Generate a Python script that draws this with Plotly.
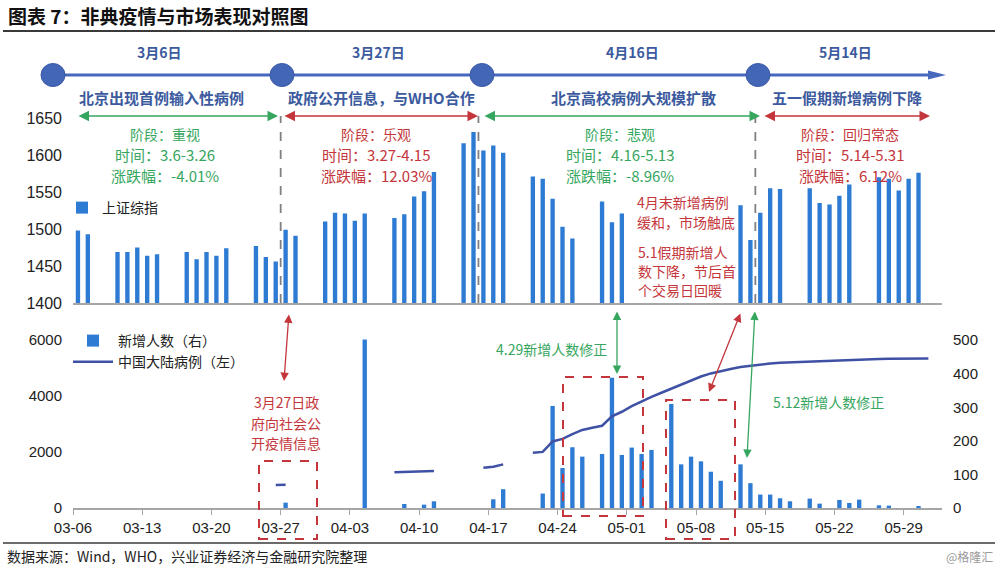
import plotly.graph_objects as go

W, H = 1000, 569
YEAR = "2003"

# ---------------- data ----------------
# Shanghai Composite (上证综指), trading days
sh_dates = ["03-06", "03-07",
            "03-10", "03-11", "03-12", "03-13", "03-14",
            "03-17", "03-18", "03-19", "03-20", "03-21",
            "03-24", "03-25", "03-26", "03-27", "03-28",
            "03-31", "04-01", "04-02", "04-03", "04-04",
            "04-07", "04-08", "04-09", "04-10", "04-11",
            "04-14", "04-15", "04-16", "04-17", "04-18",
            "04-21", "04-22", "04-23", "04-24", "04-25",
            "04-28", "04-29", "04-30",
            "05-12", "05-13", "05-14", "05-15", "05-16",
            "05-19", "05-20", "05-21", "05-22", "05-23",
            "05-26", "05-27", "05-28", "05-29", "05-30"]
sh_index = [1498, 1493,
            1469, 1469, 1475, 1464, 1466,
            1469, 1459, 1469, 1464, 1474,
            1477, 1462, 1456, 1499, 1491,
            1510, 1522, 1521, 1511, 1521,
            1515, 1520, 1544, 1551, 1577,
            1616, 1631, 1606, 1613, 1603,
            1571, 1568, 1541, 1503, 1487,
            1537, 1509, 1521,
            1532, 1485, 1522, 1555, 1554,
            1555, 1535, 1533, 1545, 1560,
            1570, 1568, 1552, 1568, 1576]

# New cases (新增人数, right axis)
new_dates = ["03-27", "04-04", "04-08", "04-10", "04-11", "04-17", "04-18",
             "04-22", "04-23", "04-24", "04-25", "04-26", "04-28", "04-29",
             "04-30", "05-01", "05-02", "05-03", "05-05", "05-06", "05-07",
             "05-08", "05-09", "05-10", "05-12", "05-13", "05-14", "05-15",
             "05-16", "05-17", "05-19", "05-20", "05-22", "05-23", "05-24",
             "05-26", "05-27", "05-30"]
new_cases = [16, 502, 12, 10, 20, 26, 56,
             43, 304, 119, 181, 153, 161, 388,
             158, 180, 161, 173, 310, 130, 153,
             139, 108, 81, 130, 74, 40, 40,
             29, 20, 28, 13, 24, 15, 25,
             8, 7, 3]

# Cumulative cases in mainland China (中国大陆病例, left axis); None = gap
cum_dates = ["03-26", "03-27", "03-28",
             "04-07", "04-08", "04-09", "04-10", "04-11", "04-12",
             "04-16", "04-17", "04-18", "04-19",
             "04-21", "04-22", "04-23", "04-24", "04-25", "04-26", "04-27",
             "04-28", "04-29", "04-30", "05-01", "05-02", "05-03", "05-04",
             "05-05", "05-06", "05-07", "05-08", "05-09", "05-10", "05-11",
             "05-12", "05-13", "05-14", "05-15", "05-16", "05-17", "05-18",
             "05-19", "05-20", "05-21", "05-22", "05-23", "05-24", "05-25",
             "05-26", "05-27", "05-28", "05-29", "05-30", "05-31"]
cum_cases = [825, 830, None,
             1275, 1287, 1298, 1310, 1321, None,
             1440, 1478, 1560, None,
             1976, 2005, 2380, 2470, 2640, 2790, 2870,
             2940, 3280, 3440, 3640, 3810, 3970, 4120,
             4270, 4420, 4570, 4700, 4810, 4900, 4970,
             5040, 5090, 5125, 5165, 5190, 5205, 5220,
             5240, 5260, 5275, 5290, 5300, 5310, 5318,
             5325, 5332, 5336, 5340, 5343, 5345]

top_ticks = [1400, 1450, 1500, 1550, 1600, 1650]
left_ticks = [0, 2000, 4000, 6000]
right_ticks = [0, 100, 200, 300, 400, 500]

milestone_dates = ["3月6日", "3月27日", "4月16日", "5月14日"]
milestone_events = ["北京出现首例输入性病例", "政府公开信息，与WHO合作",
                    "北京高校病例大规模扩散", "五一假期新增病例下降"]
phase_names = ["阶段：重视", "阶段：乐观", "阶段：悲观", "阶段：回归常态"]
phase_periods = ["时间：3.6-3.26", "时间：3.27-4.15", "时间：4.16-5.13", "时间：5.14-5.31"]
phase_changes = ["涨跌幅：-4.01%", "涨跌幅：12.03%", "涨跌幅：-8.96%", "涨跌幅：6.12%"]
phase_starts = ["03-27", "04-16", "05-14"]

# ---------------- styles ----------------
BAR = "#2E7BD4"
LINE = "#3F51A5"
TL = "#4769BB"
TLTXT = "#3C5A9E"
GREEN = "#36A65E"
RED = "#C4363B"
CJK = "Noto Sans CJK SC"
NUM = "Liberation Sans, Noto Sans CJK SC"


def d(md, t="12:00"):
    return f"{YEAR}-{md} {t}"


def P(x):
    return x / W


def Q(y):
    return 1 - y / H


XR = [d("03-06", "00:00"), d("06-01", "21:00")]
XD = [P(73), P(942)]

fig = go.Figure()

fig.add_trace(go.Bar(
    x=[d(s) for s in sh_dates], y=sh_index, name="上证综指",
    marker=dict(color=BAR, line=dict(width=0)), width=0.44 * 86400000,
    xaxis="x", yaxis="y", legend="legend"))

fig.add_trace(go.Bar(
    x=[d(s) for s in new_dates], y=new_cases, name="新增人数（右）",
    marker=dict(color=BAR, line=dict(width=0)), width=0.44 * 86400000,
    xaxis="x2", yaxis="y2", legend="legend2"))

fig.add_trace(go.Scatter(
    x=[d(s) for s in cum_dates], y=cum_cases, name="中国大陆病例（左）",
    mode="lines", line=dict(color=LINE, width=2.5), connectgaps=False,
    xaxis="x2", yaxis="y3", legend="legend2"))

shapes = []
ann = []


def txt(x, y, s, color, size=14, anchor="center", family=CJK):
    ann.append(dict(x=P(x), y=Q(y), xref="paper", yref="paper", text=s, showarrow=False,
                    xanchor=anchor, yanchor="middle", font=dict(family=family, size=size, color=color)))


def arrow(x0, y0, x1, y1, color, width=1.5, size=1.2):
    ann.append(dict(x=P(x1), y=Q(y1), xref="paper", yref="paper", ax=x0 - x1, ay=y0 - y1,
                    axref="pixel", ayref="pixel", text="", showarrow=True,
                    arrowhead=2, startarrowhead=2, arrowside="end+start",
                    arrowsize=size, startarrowsize=size, arrowwidth=width, arrowcolor=color))


# title and rules
txt(6, 15, "<b>图表 7：非典疫情与市场表现对照图</b>", "#111111", 19, "left")
shapes.append(dict(type="line", xref="paper", yref="paper", x0=P(3), x1=P(995), y0=Q(31), y1=Q(31),
                   line=dict(color="#3a3a3a", width=2)))
shapes.append(dict(type="line", xref="paper", yref="paper", x0=P(3), x1=P(995), y0=Q(543), y1=Q(543),
                   line=dict(color="#3a3a3a", width=1.5)))
txt(5, 556, "数据来源：Wind，WHO，兴业证券经济与金融研究院整理", "#222222", 14, "left")
txt(995, 556, "@格隆汇", "#9a9a9a", 12, "right")

# timeline
shapes.append(dict(type="line", xref="paper", yref="paper", x0=P(53), x1=P(935), y0=Q(75), y1=Q(75),
                   line=dict(color=TL, width=3)))
shapes.append(dict(type="path", xref="paper", yref="paper",
                   path=f"M {P(928)},{Q(70.5)} L {P(946)},{Q(75)} L {P(928)},{Q(79.5)} Z",
                   fillcolor=TL, line=dict(width=0)))
circle_x = [53, 282, 482, 758]
label_x = [159, 378, 632, 845]
event_x = [161, 381, 633, 847]
for cx in circle_x:
    shapes.append(dict(type="circle", xref="paper", yref="paper",
                       x0=P(cx - 12), x1=P(cx + 12), y0=Q(75 + 11.5), y1=Q(75 - 11.5),
                       fillcolor="#4466B6", line=dict(color="#3A5AA8", width=1)))
for lx, s in zip(label_x, milestone_dates):
    txt(lx, 52, f"<b>{s}</b>", TLTXT, 14)
for ex, s in zip(event_x, milestone_events):
    txt(ex, 97, f"<b>{s}</b>", TLTXT, 15)

# phase arrows (top)
arrow(77, 116, 278, 116, GREEN, 1.5, 1.4)
arrow(283, 116, 478, 116, RED, 1.5, 1.4)
arrow(483, 116, 760, 116, GREEN, 1.5, 1.4)
arrow(763, 116, 930, 116, RED, 1.5, 1.4)

phase_x = [165, 376, 620, 850]
phase_col = [GREEN, RED, GREEN, RED]
for px, a, b, c, col in zip(phase_x, phase_names, phase_periods, phase_changes, phase_col):
    txt(px, 134, a, col, 14)
    txt(px, 155, b, col, 15)
    txt(px, 175, c, col, 15)

# dashed phase separators
for s in phase_starts:
    shapes.append(dict(type="line", xref="x", yref="paper", x0=d(s, "00:00"), x1=d(s, "00:00"),
                       y0=Q(303), y1=Q(116), line=dict(color="#808080", width=1.8, dash="dash")))

# red notes in top panel
txt(635, 202, "4月末新增病例", RED, 14, "left")
txt(635, 222, "缓和，市场触底", RED, 14, "left")
txt(636, 252, "5.1假期新增人", RED, 14, "left")
txt(636, 271, "数下降，节后首", RED, 14, "left")
txt(636, 290, "个交易日回暖", RED, 14, "left")

# bottom panel notes
arrow(289, 313, 284, 381, RED, 1.3, 1.3)
txt(286, 402, "3月27日政", RED, 14)
txt(286, 423, "府向社会公", RED, 14)
txt(286, 443, "开疫情信息", RED, 14)
arrow(617, 310, 617, 374, GREEN, 1.3, 1.3)
txt(551, 349, "4.29新增人数修正", GREEN, 14)
arrow(741, 312, 709, 392, RED, 1.3, 1.3)
arrow(755, 310, 747, 458, GREEN, 1.3, 1.3)
txt(828, 402, "5.12新增人数修正", GREEN, 14)

for (x0, x1, y0, y1) in [(259, 317, 461, 539), (563, 643, 377, 516), (666, 735, 400, 539)]:
    shapes.append(dict(type="rect", xref="paper", yref="paper", x0=P(x0), x1=P(x1), y0=Q(y1), y1=Q(y0),
                       line=dict(color=RED, width=2, dash="dash"), fillcolor="rgba(0,0,0,0)"))

tickfont = dict(family=NUM, size=15, color="#222222")

fig.update_layout(
    template="none",
    width=W, height=H,
    margin=dict(l=0, r=0, t=0, b=0, pad=0, autoexpand=False),
    paper_bgcolor="white", plot_bgcolor="white",
    barmode="overlay",
    shapes=shapes, annotations=ann,
    font=dict(family=NUM),
    xaxis=dict(domain=XD, anchor="y", type="date", range=XR, showticklabels=False, ticks="",
               showgrid=False, zeroline=False, showline=True, linecolor="#A6A6A6", linewidth=1.5,
               automargin=False),
    yaxis=dict(domain=[Q(303), Q(118)], anchor="x", range=[1400, 1650], tickvals=top_ticks,
               showgrid=False, zeroline=False, showline=False, ticks="", ticklabelstandoff=10,
               tickfont=dict(family=NUM, size=16, color="#222222"), automargin=False),
    xaxis2=dict(domain=XD, anchor="y2", type="date", range=XR, tickformat="%m-%d",
                tick0=d("03-06", "00:00"), dtick=7 * 86400000, ticks="outside", ticklen=5,
                tickcolor="#A6A6A6", showgrid=False, zeroline=False, showline=True,
                linecolor="#A6A6A6", linewidth=1.5, tickfont=tickfont, automargin=False),
    yaxis2=dict(domain=[Q(508), Q(320)], anchor="x2", side="right", range=[0, 560], tickvals=right_ticks,
                showgrid=False, zeroline=False, showline=False, ticks="", ticklabelstandoff=10,
                tickfont=tickfont, automargin=False),
    yaxis3=dict(overlaying="y2", anchor="x2", side="left", range=[0, 6720], tickvals=left_ticks,
                showgrid=False, zeroline=False, showline=False, ticks="", ticklabelstandoff=10,
                tickfont=tickfont, automargin=False),
    legend=dict(x=P(62), y=Q(192), xanchor="left", yanchor="top", bgcolor="rgba(0,0,0,0)",
                font=dict(family=CJK, size=14, color="#222222"), itemwidth=30),
    legend2=dict(x=P(68), y=Q(325), xanchor="left", yanchor="top", bgcolor="rgba(0,0,0,0)",
                 font=dict(family=CJK, size=14, color="#222222"), itemwidth=40, tracegroupgap=0),
    showlegend=True,
)

fig.write_html("out.html", config={"displayModeBar": False},
               post_script="document.body.style.margin='0px';document.body.style.overflow='hidden';")
